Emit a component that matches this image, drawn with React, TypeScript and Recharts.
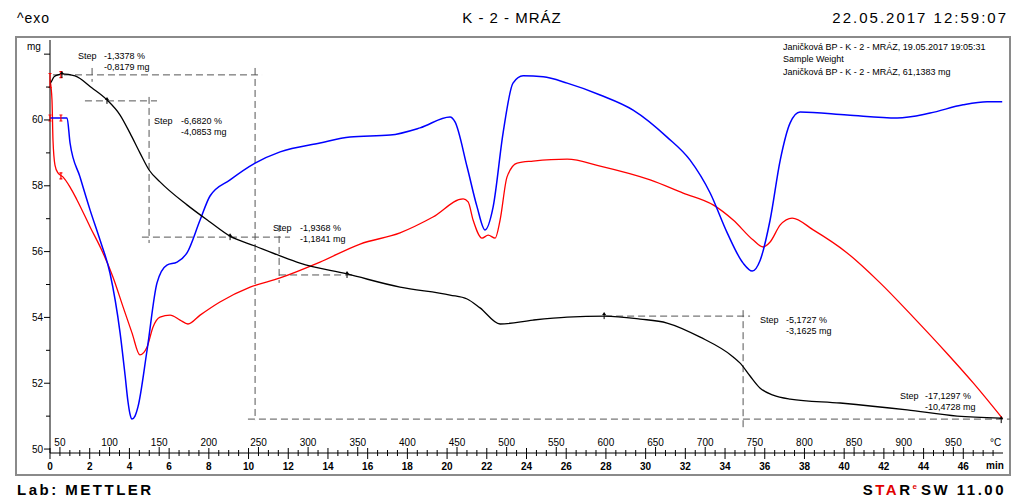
import { LineChart, Line, XAxis, YAxis, ReferenceLine, ReferenceDot } from 'recharts';

// TGA mass curve (black), time in min, mass in mg
const tgaTime = [0, 0.1, 0.2, 0.4, 0.6, 1.26, 2.12, 2.87, 3.53, 4.03, 4.53, 4.99, 5.54, 6.9, 8.06, 9.07, 10.33, 11.59, 12.59, 14.96, 17.63, 20.15, 21.01, 21.66, 22.67, 24.33, 26.05, 27.96, 29.72, 31.08, 32.75, 34.41, 34.76, 35.26, 35.77, 36.42, 37.28, 39.8, 43.17, 45.69, 47.86];
const tgaMass = [61.1, 61.2, 61.31, 61.37, 61.4, 61.34, 60.97, 60.61, 60.15, 59.6, 59.0, 58.48, 58.12, 57.42, 56.9, 56.47, 56.17, 55.87, 55.65, 55.32, 54.92, 54.68, 54.56, 54.29, 53.8, 53.92, 54.01, 54.04, 53.95, 53.83, 53.4, 52.8, 52.61, 52.22, 51.85, 51.64, 51.52, 51.4, 51.19, 51.0, 50.94];

// DSC signal (blue), drawn on the mg scale
const blueTime = [0, 0.86, 1.01, 1.51, 2.02, 2.52, 3.02, 3.53, 3.78, 3.93, 4.03, 4.13, 4.28, 4.43, 4.89, 5.39, 5.89, 6.4, 6.9, 7.56, 8.06, 9.07, 10.33, 11.59, 13.6, 15.11, 17.13, 18.64, 20.15, 20.4, 21.01, 21.51, 21.91, 22.32, 22.82, 23.32, 23.83, 24.84, 26.05, 27.71, 29.37, 31.08, 32.24, 33.25, 34.11, 34.91, 35.37, 35.77, 36.27, 36.78, 37.28, 37.78, 40.15, 42.67, 44.33, 45.99, 47.2, 47.96];
const blueValue = [60.06, 60.06, 59.3, 58.27, 57.26, 56.35, 55.35, 53.53, 52.25, 51.43, 51.06, 50.91, 51.0, 51.28, 53.01, 55.05, 55.59, 55.68, 55.96, 56.96, 57.69, 58.18, 58.69, 59.03, 59.3, 59.48, 59.54, 59.76, 60.09, 59.94, 58.57, 57.36, 56.66, 57.36, 59.6, 61.12, 61.34, 61.31, 61.12, 60.76, 60.3, 59.48, 58.78, 57.78, 56.57, 55.65, 55.41, 55.74, 56.96, 58.78, 59.91, 60.24, 60.15, 60.06, 60.21, 60.46, 60.55, 60.55];

// second DSC signal (red)
const redTime = [0, 0.1, 0.15, 0.25, 0.4, 0.65, 1.01, 1.36, 2.02, 2.67, 3.17, 3.68, 4.13, 4.53, 4.89, 5.19, 5.54, 6.05, 6.55, 6.95, 7.56, 8.56, 10.08, 11.59, 13.6, 15.62, 17.63, 19.29, 20.81, 21.06, 21.31, 21.76, 22.07, 22.42, 22.67, 23.02, 23.53, 24.33, 26.05, 27.71, 30.23, 31.89, 33.4, 34.41, 35.42, 35.92, 36.27, 36.78, 37.38, 38.44, 40.15, 41.81, 43.48, 45.16, 46.5, 47.96];
const redValue = [61.22, 60.61, 59.39, 58.63, 58.39, 58.27, 57.96, 57.57, 56.75, 55.96, 55.23, 54.32, 53.53, 52.86, 53.1, 53.71, 54.01, 54.07, 53.92, 53.8, 54.07, 54.47, 54.92, 55.2, 55.68, 56.23, 56.57, 57.05, 57.6, 57.51, 56.96, 56.41, 56.5, 56.41, 56.96, 58.27, 58.69, 58.75, 58.81, 58.6, 58.18, 57.78, 57.42, 56.96, 56.35, 56.14, 56.29, 56.81, 57.02, 56.66, 55.96, 55.05, 54.01, 52.92, 52.01, 50.94];

// axes
const minuteLabels = [0, 2, 4, 6, 8, 10, 12, 14, 16, 18, 20, 22, 24, 26, 28, 30, 32, 34, 36, 38, 40, 42, 44, 46];
const celsiusLabels = [50, 100, 150, 200, 250, 300, 350, 400, 450, 500, 550, 600, 650, 700, 750, 800, 850, 900, 950];
const mgTicks = [50, 51, 52, 53, 54, 55, 56, 57, 58, 59, 60, 61, 62];
const startTemp = 40;
const heatingRate = 20; // K/min
const axisTicks = Array.from({ length: 96 }, (_, i) => i * 0.5);

// evaluation range brackets at the start of the curves
const bracketTime = [0, 0.55, 0, 0.55, 0.55];
const bracketValue = [61.2, 61.38, 60.06, 60.06, 58.3];
const bracketSize = [7, 3, 3, 3, 3];

// step evaluation
const stepMarkTime = [0.6, 2.87, 9.07, 14.96, 27.91, 47.91];
const stepMarkMass = [61.4, 60.61, 56.47, 55.32, 54.07, 50.91];
const stepGuides = [
  [[0.15, 61.37], [10.68, 61.37]],
  [[2.12, 61.58], [2.12, 61.16]],
  [[1.76, 60.58], [5.39, 60.58]],
  [[4.99, 60.7], [4.99, 56.26]],
  [[10.33, 61.58], [10.33, 50.88]],
  [[4.63, 56.44], [12.09, 56.44]],
  [[11.54, 56.81], [11.54, 55.05]],
  [[11.54, 55.29], [15.21, 55.29]],
  [[27.96, 54.04], [35.26, 54.04]],
  [[34.91, 54.22], [34.91, 50.64]],
  [[9.97, 50.91], [48.36, 50.91]],
];
const stepPercent = ['-1,3378 %', '-6,6820 %', '-1,9368 %', '-5,1727 %', '-17,1297 %'];
const stepMass = ['-0,8179 mg', '-4,0853 mg', '-1,1841 mg', '-3,1625 mg', '-10,4728 mg'];
const stepPos = [
  { sx: 78, vx: 104, y: 57 },
  { sx: 154, vx: 181, y: 122 },
  { sx: 273, vx: 300, y: 229 },
  { sx: 760, vx: 786, y: 321 },
  { sx: 900, vx: 925, y: 397 },
];

const infoLines = [
  'Janičková BP - K - 2 - MRÁZ, 19.05.2017 19:05:31',
  'Sample Weight',
  'Janičková BP - K - 2 - MRÁZ, 61,1383 mg',
];

const toPoints = (time: number[], value: number[]) => time.map((t, i) => ({ t, v: value[i] }));
const tgaData = toPoints(tgaTime, tgaMass);
const blueData = toPoints(blueTime, blueValue);
const redData = toPoints(redTime, redValue);

const font = '"Liberation Sans", Arial, sans-serif';

function TimeTick(props: any) {
  const { x, y, payload } = props;
  const t = payload.value;
  const minute = minuteLabels.includes(t);
  const celsius = startTemp + heatingRate * t;
  const tempMajor = celsiusLabels.includes(celsius);
  const y1 = minute ? y - 5 : tempMajor ? y - 6 : y - 3;
  const y2 = minute ? y + 6 : y + 3;
  return (
    <g>
      <line x1={x} x2={x} y1={y1} y2={y2} stroke="#000" strokeWidth={1} />
      {minute && (
        <text x={x} y={y + 17} textAnchor="middle" fontSize={10} fontWeight="bold" fill="#000" fontFamily={font}>
          {t}
        </text>
      )}
      {tempMajor && (
        <text x={x} y={y - 7} textAnchor="middle" fontSize={10} fill="#000" fontFamily={font}>
          {celsius}
        </text>
      )}
    </g>
  );
}

function MgTick(props: any) {
  const { x, y, payload } = props;
  const v = payload.value;
  const major = v % 2 === 0;
  return (
    <g>
      <line x1={x - (major ? 6 : 4)} x2={x} y1={y} y2={y} stroke="#000" strokeWidth={1} />
      {major && v < 62 && (
        <text x={x - 7} y={y + 3.5} textAnchor="end" fontSize={10} fill="#000" fontFamily={font}>
          {v}
        </text>
      )}
    </g>
  );
}

function StepMark(props: any) {
  const { cx, cy } = props;
  return (
    <g>
      <path d={`M${cx - 2},${cy} L${cx},${cy - 3} L${cx + 2},${cy} Z`} fill="#000" />
      <line x1={cx} x2={cx} y1={cy} y2={cy + 4} stroke="#000" />
    </g>
  );
}

function Bracket(props: any) {
  const { cx, cy, h } = props;
  return (
    <path
      d={`M${cx - 1.5},${cy - h} H${cx + 1.5} M${cx},${cy - h} V${cy + h} M${cx - 1.5},${cy + h} H${cx + 1.5}`}
      stroke="#ff0000"
      strokeWidth={1.2}
      fill="none"
    />
  );
}

const abs = (left: number, top: number): React.CSSProperties => ({ position: 'absolute', left, top, whiteSpace: 'nowrap' });

export default function App() {
  return (
    <div style={{ position: 'absolute', left: 0, top: 0, width: 1024, height: 502, background: '#fff', fontFamily: font, color: '#000', overflow: 'hidden' }}>
      <div style={{ ...abs(17, 10), fontSize: 14, letterSpacing: 1 }}>^exo</div>
      <div style={{ position: 'absolute', left: 0, width: 1024, top: 9, textAlign: 'center', fontSize: 15, letterSpacing: 1 }}>K - 2 - MRÁZ</div>
      <div style={{ position: 'absolute', right: 16, top: 9, fontSize: 15, letterSpacing: 2 }}>22.05.2017 12:59:07</div>

      <div style={{ position: 'absolute', left: 15, top: 36, width: 996, height: 440, border: '2px solid #8a8a8a', boxSizing: 'border-box' }} />

      <div style={{ position: 'absolute', left: 0, top: 0 }}>
        <LineChart width={1024} height={502} margin={{ top: 40, right: 21, bottom: 19, left: 0 }}>
          <XAxis
            type="number"
            dataKey="t"
            domain={[0, 48]}
            ticks={axisTicks}
            interval={0}
            allowDataOverflow
            tick={<TimeTick />}
            tickLine={false}
            tickSize={0}
            tickMargin={0}
            height={30}
            axisLine={{ stroke: '#000' }}
          />
          <YAxis
            type="number"
            domain={[49.88, 62.43]}
            ticks={mgTicks}
            interval={0}
            allowDataOverflow
            tick={<MgTick />}
            tickLine={false}
            tickSize={0}
            tickMargin={0}
            width={50}
            axisLine={{ stroke: '#000' }}
          />
          {stepGuides.map((seg, i) => (
            <ReferenceLine
              key={`g${i}`}
              segment={[{ x: seg[0][0], y: seg[0][1] }, { x: seg[1][0], y: seg[1][1] }]}
              stroke="#555"
              strokeDasharray="7 4"
              ifOverflow="visible"
            />
          ))}
          <Line data={redData} dataKey="v" type="monotone" stroke="#ff0000" strokeWidth={1.3} dot={false} isAnimationActive={false} />
          <Line data={blueData} dataKey="v" type="monotone" stroke="#0000ff" strokeWidth={1.5} dot={false} isAnimationActive={false} />
          <Line data={tgaData} dataKey="v" type="monotone" stroke="#000" strokeWidth={1.3} dot={false} isAnimationActive={false} />
          {bracketTime.map((t, i) => (
            <ReferenceDot key={`b${i}`} x={t} y={bracketValue[i]} r={2} shape={(p: any) => <Bracket {...p} h={bracketSize[i]} />} ifOverflow="visible" />
          ))}
          {stepMarkTime.map((t, i) => (
            <ReferenceDot key={`m${i}`} x={t} y={stepMarkMass[i]} r={2} shape={<StepMark />} ifOverflow="visible" />
          ))}
        </LineChart>
      </div>

      <div style={{ ...abs(27, 41), fontSize: 10 }}>mg</div>
      <div style={{ ...abs(990, 437), fontSize: 10 }}>°C</div>
      <div style={{ ...abs(986, 460), fontSize: 10, fontWeight: 'bold' }}>min</div>

      {infoLines.map((line, i) => (
        <div key={line} style={{ ...abs(783, 41 + i * 12.3), fontSize: 9, lineHeight: '12px' }}>{line}</div>
      ))}

      {stepPos.map((p, i) => (
        <div key={i} style={{ fontSize: 9, lineHeight: '11px' }}>
          <div style={abs(p.sx, p.y - 6)}>Step</div>
          <div style={abs(p.vx, p.y - 6)}>{stepPercent[i]}</div>
          <div style={abs(p.vx, p.y + 5)}>{stepMass[i]}</div>
        </div>
      ))}

      <div style={{ ...abs(17, 481), fontSize: 15, fontWeight: 'bold', letterSpacing: 2.5 }}>Lab: METTLER</div>
      <div style={{ position: 'absolute', right: 18, top: 481, fontSize: 15, fontWeight: 'bold', letterSpacing: 2.5, whiteSpace: 'nowrap' }}>
        S<span style={{ color: '#e00000' }}>TA</span>R<sup style={{ color: '#e00000', fontSize: 8, letterSpacing: 0, marginRight: 4 }}>e</sup>SW 11.00
      </div>
    </div>
  );
}
